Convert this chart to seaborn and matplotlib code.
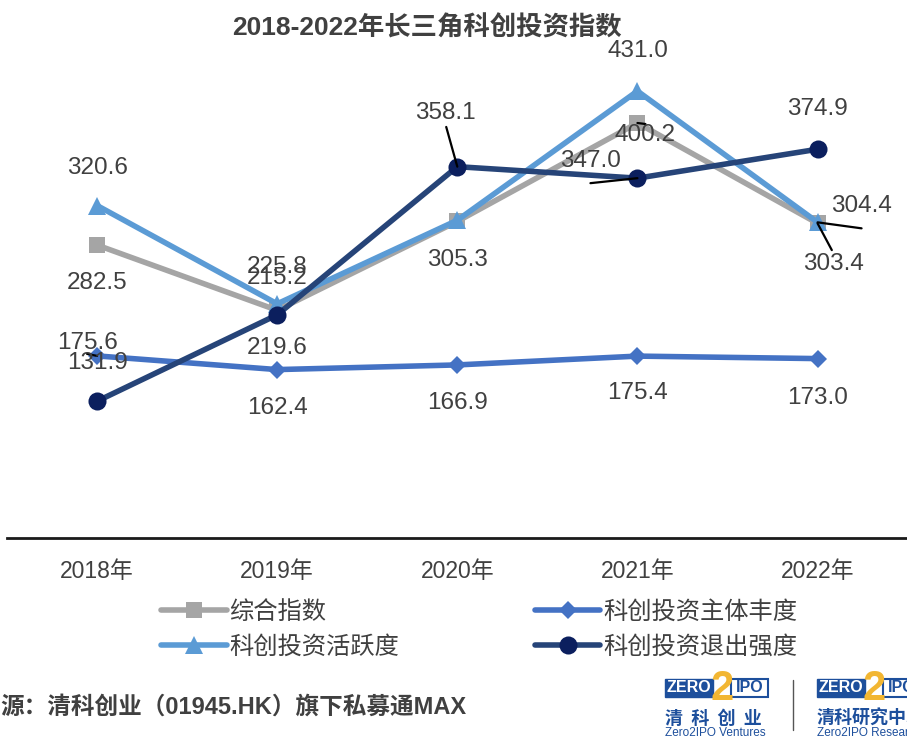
import numpy as np
import pandas as pd
import matplotlib
matplotlib.use('Agg')
import matplotlib.pyplot as plt
import seaborn as sns
from matplotlib.lines import Line2D
from matplotlib.patches import Rectangle

# data
years = ['2018年', '2019年', '2020年', '2021年', '2022年']
composite = [282.5, 219.6, 305.3, 400.2, 303.4]       # 综合指数
diversity = [175.6, 162.4, 166.9, 175.4, 173.0]       # 科创投资主体丰度
activity = [320.6, 225.8, 306.4, 431.0, 304.4]        # 科创投资活跃度 (2020 label hidden in source)
exit_strength = [131.9, 215.2, 358.1, 347.0, 374.9]   # 科创投资退出强度
series_names = ['综合指数', '科创投资主体丰度', '科创投资活跃度', '科创投资退出强度']

sns.set_theme(style='white')
plt.rcParams['font.family'] = ['Liberation Sans', 'Noto Sans CJK SC', 'DejaVu Sans']
plt.rcParams['axes.unicode_minus'] = False

text_color = '#404040'
fig = plt.figure(figsize=(9.07, 7.39), dpi=100)
ax = fig.add_axes([0.0077, 0.272, 0.993, 0.7016])

x = np.arange(len(years))
styles = {
    '综合指数': dict(color='#A5A5A5', marker='s', mfc='#A5A5A5', ms=11),
    '科创投资主体丰度': dict(color='#4472C4', marker='D', mfc='#4472C4', ms=9),
    '科创投资活跃度': dict(color='#5B9BD5', marker='^', mfc='#5B9BD5', ms=13),
    '科创投资退出强度': dict(color='#264478', marker='o', mfc='#0B1F5E', ms=13),
}
values = {
    '综合指数': composite,
    '科创投资主体丰度': diversity,
    '科创投资活跃度': activity,
    '科创投资退出强度': exit_strength,
}
draw_order = ['综合指数', '科创投资活跃度', '科创投资主体丰度', '科创投资退出强度']
for name in draw_order:
    st = styles[name]
    sns.lineplot(x=x, y=values[name], ax=ax, color=st['color'], linewidth=4,
                 marker=st['marker'], markersize=st['ms'], markerfacecolor=st['mfc'],
                 markeredgecolor=st['mfc'], markeredgewidth=0, legend=False)

ax.set_xlim(-0.5, 4.5)
ax.set_ylim(0, 500)
ax.set_yticks([])
ax.set_xticks(x)
ax.set_xticklabels(years, fontsize=16.5, color=text_color)
ax.tick_params(axis='x', length=0, pad=16)
for s in ['top', 'right', 'left']:
    ax.spines[s].set_visible(False)
ax.spines['bottom'].set_color('#1a1a1a')
ax.spines['bottom'].set_linewidth(2)

# data labels: (series, index, dx px, dy px, leader, relpos)
labels = [
    ('科创投资活跃度', 0, 0, 38, False, None),
    ('综合指数', 0, 0, -38, False, None),
    ('科创投资主体丰度', 0, -10, 13, True, (0.5, 0.0)),
    ('科创投资退出强度', 0, 0, 38, False, None),
    ('科创投资活跃度', 1, 0, 37, False, None),
    ('科创投资退出强度', 1, 0, 37, False, None),
    ('综合指数', 1, 0, -38, False, None),
    ('科创投资主体丰度', 1, 0, -38, False, None),
    ('科创投资退出强度', 2, -12, 54, True, (0.5, 0.0)),
    ('综合指数', 2, 0, -39, False, None),
    ('科创投资主体丰度', 2, 0, -38, False, None),
    ('科创投资活跃度', 3, 0, 40, False, None),
    ('综合指数', 3, 8, -12, True, (0.5, 1.0)),
    ('科创投资退出强度', 3, -47, 17, True, (0.5, -0.5)),
    ('科创投资主体丰度', 3, 0, -37, False, None),
    ('科创投资退出强度', 4, 0, 40, False, None),
    ('科创投资活跃度', 4, 44, 16, True, (0.5, -0.5)),
    ('综合指数', 4, 16, -41, True, (0.5, 1.0)),
    ('科创投资主体丰度', 4, 0, -39, False, None),
]
for name, i, dx, dy, leader, rel in labels:
    v = values[name][i]
    kw = {}
    if leader:
        kw['arrowprops'] = dict(arrowstyle='-', color='black', lw=1.6, shrinkA=0, shrinkB=0,
                                relpos=rel)
    ax.annotate(f'{v:.1f}', xy=(i, v), xytext=(dx, dy), textcoords='offset pixels',
                ha='center', va='center', fontsize=17.5, color=text_color, **kw)

fig.text(0.471, 0.962, '2018-2022年长三角科创投资指数', ha='center', va='center',
         fontsize=19, fontweight='bold', color=text_color)

# legend
handles = []
for name in series_names:
    st = styles[name]
    handles.append(Line2D([0], [0], color=st['color'], lw=4, marker=st['marker'],
                          markersize=st['ms'], markerfacecolor=st['mfc'], markeredgewidth=0))
leg = fig.legend(handles=[handles[0], handles[2], handles[1], handles[3]],
                 labels=[series_names[0], series_names[2], series_names[1], series_names[3]],
                 ncol=2, loc='center', bbox_to_anchor=(0.528, 0.148), frameon=False,
                 fontsize=17.5, handlelength=2.7, handletextpad=0.1, columnspacing=5.6,
                 labelspacing=0.5, labelcolor=text_color)

# footer source
fig.text(0.0, 0.043, '源：清科创业（01945.HK）旗下私募通MAX', ha='left', va='center',
         fontsize=17, fontweight='bold', color=text_color)

# logos
W, H = 907, 739
blue = '#1D4F9C'
gold = '#F2B632'


def px(xp, yp):
    return xp / W, 1 - yp / H


def logo(x0, cn, en):
    bx, by = px(x0, 697)
    fig.patches.append(Rectangle((bx, by), 48 / W, 18 / H, transform=fig.transFigure,
                                 facecolor=blue, edgecolor=blue, zorder=3))
    ix, iy = px(x0 + 66, 697)
    fig.patches.append(Rectangle((ix, iy), 37 / W, 18 / H, transform=fig.transFigure,
                                 facecolor='white', edgecolor=blue, lw=1.5, zorder=3))
    tx, ty = px(x0 + 24, 688)
    fig.text(tx, ty, 'ZERO', ha='center', va='center', color='white', fontsize=11.5,
             fontweight='bold', zorder=5)
    tx, ty = px(x0 + 85, 688)
    fig.text(tx, ty, 'IPO', ha='center', va='center', color=blue, fontsize=11.5,
             fontweight='bold', zorder=5)
    tx, ty = px(x0 + 57, 689)
    fig.text(tx, ty, '2', ha='center', va='center', color=gold, fontsize=30,
             fontweight='bold', zorder=6)
    tx, ty = px(x0, 718)
    fig.text(tx, ty, cn, ha='left', va='center', color=blue, fontsize=13,
             fontweight='bold', family=['Noto Sans CJK SC'])
    tx, ty = px(x0, 733)
    fig.text(tx, ty, en, ha='left', va='center', color=blue, fontsize=8.5)


logo(665, '清  科  创  业', 'Zero2IPO Ventures')
logo(817, '清科研究中心', 'Zero2IPO Research')
fig.add_artist(Line2D([793 / W, 793 / W], [1 - 680 / H, 1 - 730 / H], color='#555555', lw=1))

fig.savefig('out.png', dpi=100)
